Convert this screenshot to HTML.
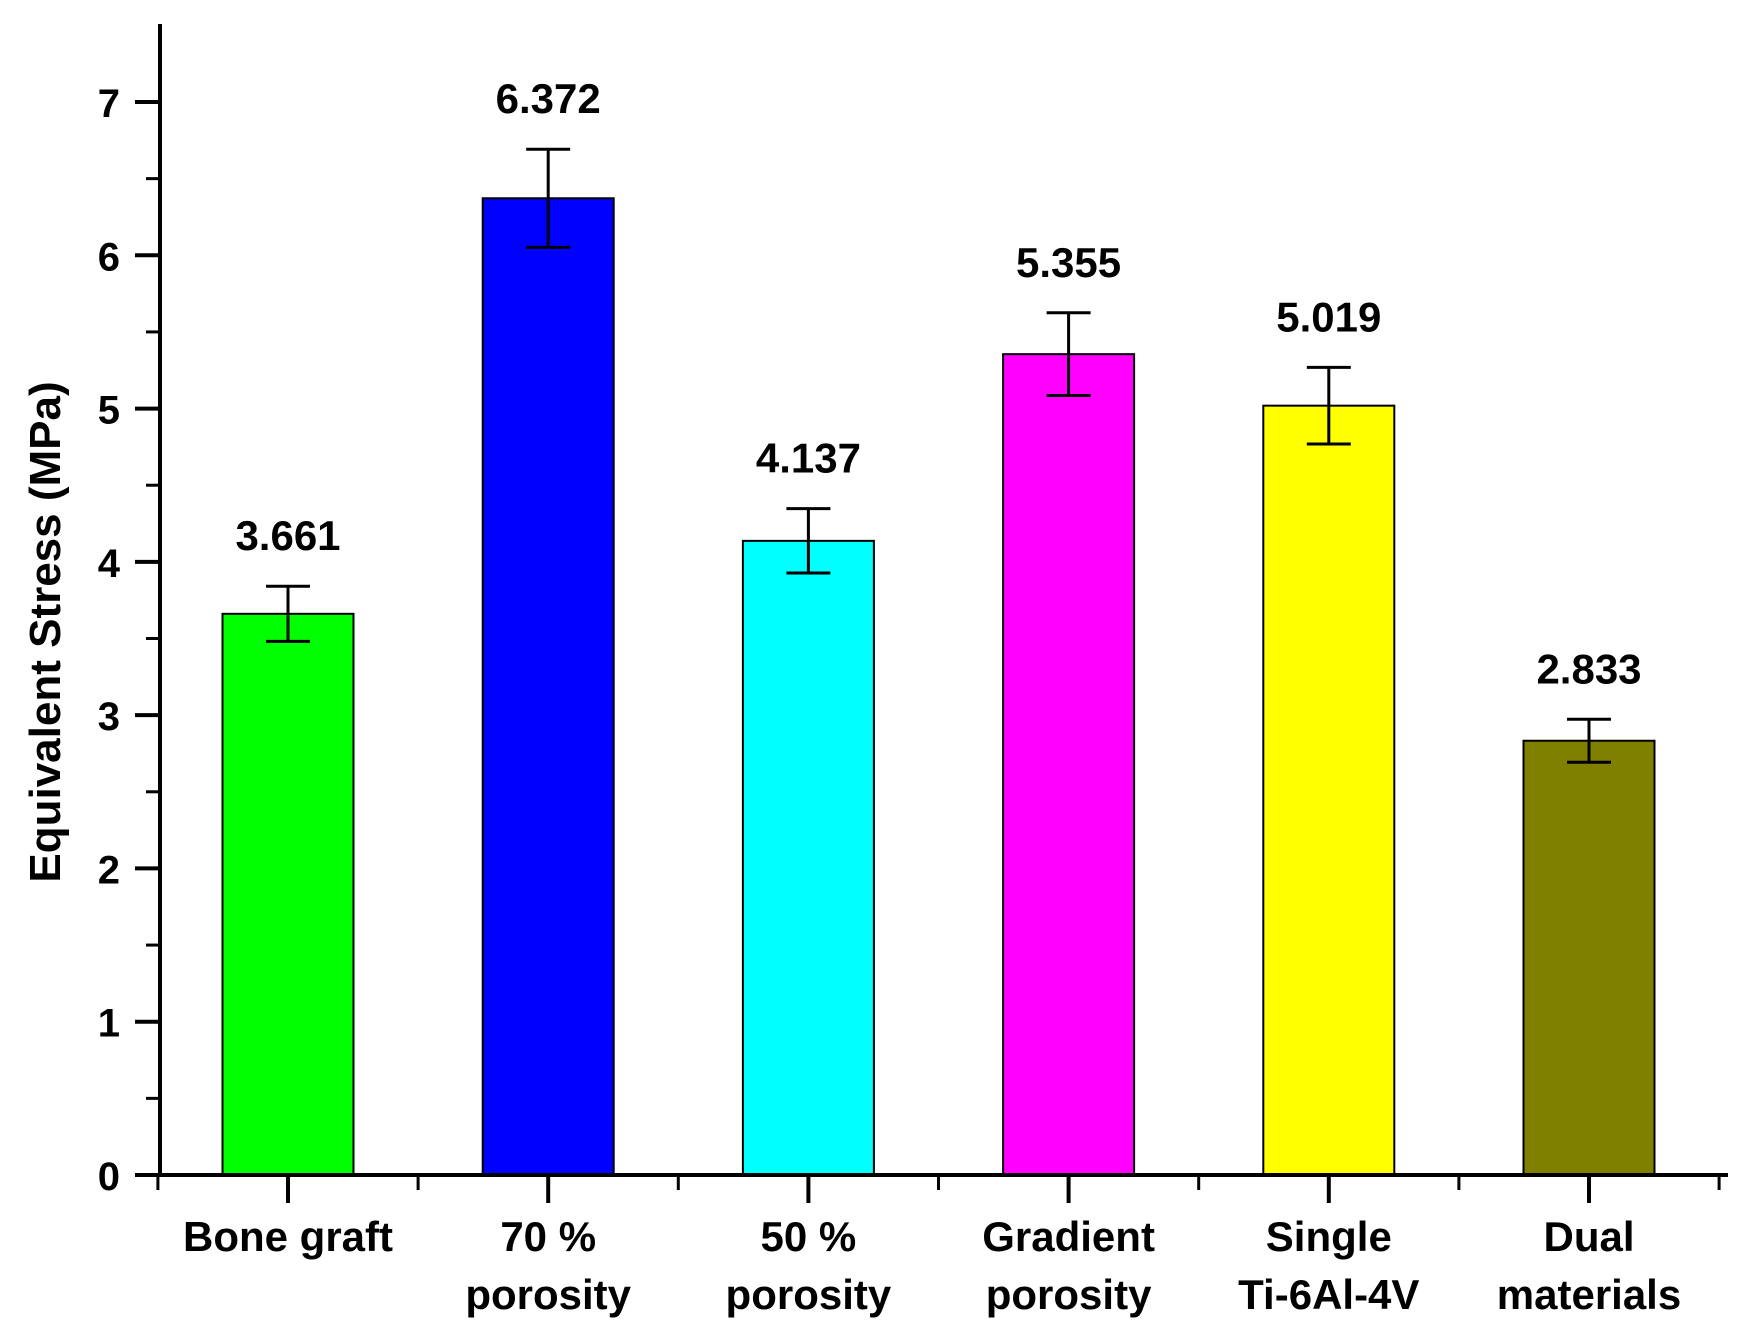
<!DOCTYPE html>
<html><head><meta charset="utf-8"><style>
html,body{margin:0;padding:0;background:#fff;}
svg text{font-family:"Liberation Sans",Arial,sans-serif;font-weight:bold;fill:#000;}
</style></head><body>
<svg id="chart" width="1738" height="1334" viewBox="0 0 1738 1334" xmlns="http://www.w3.org/2000/svg"></svg>
<script>
const categories = [["Bone graft"],["70 %","porosity"],["50 %","porosity"],["Gradient","porosity"],["Single","Ti-6Al-4V"],["Dual","materials"]];
const values = [3.661, 6.372, 4.137, 5.355, 5.019, 2.833];
const errors = [0.18, 0.32, 0.21, 0.27, 0.25, 0.14];
const valueLabels = ["3.661","6.372","4.137","5.355","5.019","2.833"];
const colors = ["#00ff00","#0000ff","#00ffff","#ff00ff","#ffff00","#808000"];
const yTicks = [0,1,2,3,4,5,6,7];

const svg = document.getElementById('chart');
const NS = 'http://www.w3.org/2000/svg';
const x0 = 160, y0 = 1175, unit = (1175-102)/7, step = 260.2, firstC = 288, barW = 131;
const xC = i => firstC + i*step;
const yS = v => y0 - v*unit;
function mk(tag, attrs, parent){ const e = document.createElementNS(NS, tag); for (const k in attrs) e.setAttribute(k, attrs[k]); (parent||svg).appendChild(e); return e; }

// bars
values.forEach((v,i)=>{
  const g = mk('g',{});
  
  
  const r = mk('rect',{x:xC(i)-barW/2,y:yS(v),width:barW,height:y0-yS(v),fill:colors[i],stroke:'#000','stroke-width':2},g);
  
  
  const e = errors[i], cx = xC(i);
  const eb = mk('path',{d:`M${cx} ${yS(v+e)}V${yS(v-e)}M${cx-22} ${yS(v+e)}H${cx+22}M${cx-22} ${yS(v-e)}H${cx+22}`,stroke:'#000','stroke-width':3,fill:'none'},g);
  
  
  const t = mk('text',{x:cx,y:yS(v+e)-36,'text-anchor':'middle','font-size':42},g);
  t.textContent = valueLabels[i];
  
  
});

// y axis
const ya = mk('g',{});


mk('line',{x1:x0,y1:24,x2:x0,y2:y0+2,stroke:'#000','stroke-width':4},ya);
yTicks.forEach(v=>{
  mk('line',{x1:x0-25,y1:yS(v),x2:x0,y2:yS(v),stroke:'#000','stroke-width':4},ya);
  const t = mk('text',{x:120,y:yS(v)+15,'text-anchor':'end','font-size':40},ya);
  t.textContent = v;
  
  
  if (v < 7) mk('line',{x1:x0-14,y1:yS(v+0.5),x2:x0,y2:yS(v+0.5),stroke:'#000','stroke-width':3},ya);
});
const yt = mk('text',{x:0,y:0,'text-anchor':'middle','font-size':44,transform:'translate(60,632) rotate(-90)'});
yt.textContent = 'Equivalent Stress (MPa)';



// x axis
const xa = mk('g',{});


mk('line',{x1:x0-25,y1:y0,x2:1728,y2:y0,stroke:'#000','stroke-width':4},xa);
categories.forEach((c,i)=>{
  mk('line',{x1:xC(i),y1:y0,x2:xC(i),y2:y0+28,stroke:'#000','stroke-width':4},xa);
  mk('line',{x1:xC(i)-step/2,y1:y0,x2:xC(i)-step/2,y2:y0+15,stroke:'#000','stroke-width':3},xa);
  c.forEach((line,j)=>{
    const t = mk('text',{x:xC(i),y:1251+j*58,'text-anchor':'middle','font-size':42},xa);
    t.textContent = line;
    
    
  });
});
mk('line',{x1:xC(5)+step/2,y1:y0,x2:xC(5)+step/2,y2:y0+15,stroke:'#000','stroke-width':3},xa);
</script>
</body></html>
